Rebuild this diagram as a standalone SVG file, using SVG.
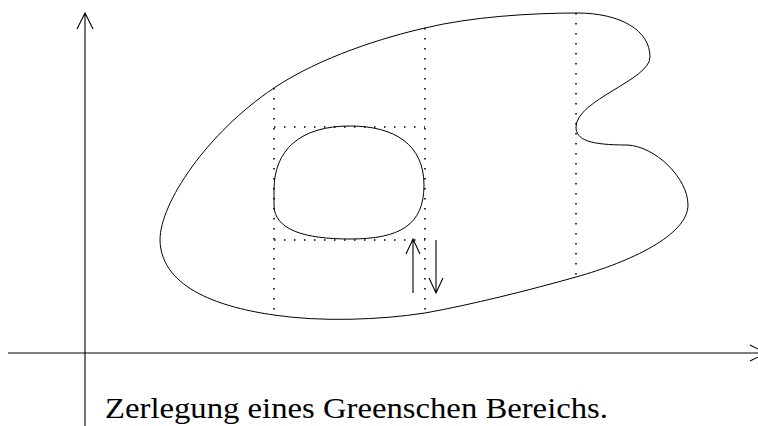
<svg xmlns="http://www.w3.org/2000/svg" width="758" height="426" viewBox="0 0 758 426">
<style>
.ax{stroke:#000;stroke-width:1.1;fill:none}
.curve{stroke:#000;stroke-width:1;fill:none}
.dot{stroke:#000;stroke-width:1.6;fill:none;stroke-dasharray:1.5 8.5}
.arr{stroke:#000;stroke-width:1.1;fill:none}
</style>
<rect width="758" height="426" fill="#fff"/>
<g id="axes">
<path class="ax" d="M85,13 L85,426 M77,29 L85,13 L93,29"/>
<path class="ax" d="M8,353 L766,353 M750,345 L766,353 L750,361"/>
</g>
<g id="outer-region">
<path class="curve" d="M160,240 C160,203 207,133 274,88 C320,57 385,37 425,28 C470,17 530,13 577,13 C620,13 650,30 650,57 C650,80 576,100 576,127 C576,140 590,145 627,145 C655,146 688,178 688,205 C688,235 630,262 576,277 C530,290 470,305 425,313 C380,320 320,322 274,315 C225,308 161,290 160,240 Z"/>
</g>
<g id="inner-region">
<path class="curve" d="M350,126 C395,126 424,145 424,185 C424,225 400,239 350,239 C305,239 274,230 274,205 L274,190 C274,150 300,126 350,126 Z"/>
</g>
<g id="decomposition-lines">
<path class="dot" d="M274,88 L274,315"/>
<path class="dot" d="M425,28 L425,313"/>
<path class="dot" d="M576,13 L576,277"/>
<path class="dot" d="M274,127 L425,127"/>
<path class="dot" d="M274,240 L425,240"/>
</g>
<g id="connectors">
<path class="arr" d="M413,293 L413,239 M406,254 L413,239 L420,254"/>
<path class="arr" d="M436,240 L436,293 M429,278 L436,293 L443,278"/>
</g>
<g id="caption">
<text x="105" y="418" font-family="'Liberation Serif', 'DejaVu Serif', serif" font-size="30" fill="#000" textLength="503" lengthAdjust="spacingAndGlyphs">Zerlegung eines Greenschen Bereichs.</text>
</g>
</svg>
